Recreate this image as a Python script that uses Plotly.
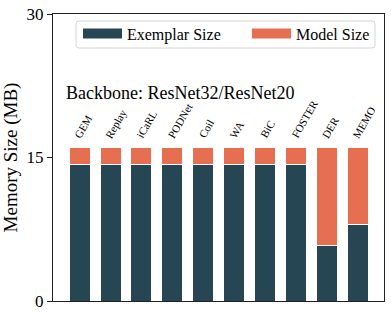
import plotly.graph_objects as go

methods = ["GEM", "Replay", "iCaRL", "PODNet", "Coil", "WA", "BiC", "FOSTER", "DER", "MEMO"]
exemplar_size = [14.25, 14.25, 14.25, 14.25, 14.25, 14.25, 14.25, 14.25, 5.8, 8.0]
model_size = [1.75, 1.75, 1.75, 1.75, 1.75, 1.75, 1.75, 1.75, 10.2, 8.0]
y_ticks = [0, 15, 30]

C_EX = "#264653"
C_MO = "#e76f51"
FONT = "Liberation Serif, Times New Roman, serif"

fig = go.Figure()
fig.add_trace(go.Bar(x=methods, y=exemplar_size, name="Exemplar Size", marker=dict(color=C_EX, line=dict(color="white", width=1)),
                     width=0.68, showlegend=False))
fig.add_trace(go.Bar(x=methods, y=model_size, name="Model Size", marker=dict(color=C_MO, line=dict(color="white", width=1)),
                     width=0.68, showlegend=False))
# legend proxies (wide patches)
fig.add_trace(go.Scatter(x=[None], y=[None], mode="lines", name="Exemplar Size", line=dict(color=C_EX, width=10), legend="legend"))
fig.add_trace(go.Scatter(x=[None], y=[None], mode="lines", name="Model Size", line=dict(color=C_MO, width=10), legend="legend2"))

totals = [a + b for a, b in zip(exemplar_size, model_size)]
for m, t in zip(methods, totals):
    fig.add_annotation(x=m, y=t, text=m, textangle=-60, showarrow=False, xanchor="left", yanchor="bottom",
                       xshift=-10, yshift=5, font=dict(size=11, family=FONT, color="black"))

fig.add_annotation(x=0.033, y=0.725, xref="paper", yref="paper", text="Backbone: ResNet32/ResNet20", showarrow=False,
                   xanchor="left", yanchor="middle", font=dict(size=18, family=FONT, color="black"))

# legend frame (rounded)
x0, x1, y0, y1 = 0.0695, 0.9728, 0.8815, 0.9756
rx, ry = 0.009, 0.0105
path = (f"M{x0+rx},{y0} L{x1-rx},{y0} Q{x1},{y0} {x1},{y0+ry} L{x1},{y1-ry} Q{x1},{y1} {x1-rx},{y1} "
        f"L{x0+rx},{y1} Q{x0},{y1} {x0},{y1-ry} L{x0},{y0+ry} Q{x0},{y0} {x0+rx},{y0} Z")
fig.add_shape(type="path", path=path, xref="paper", yref="paper", fillcolor="white",
              line=dict(color="#d4d4d4", width=1), layer="above")

leg_common = dict(orientation="h", yanchor="middle", xanchor="left", bgcolor="rgba(0,0,0,0)", borderwidth=0,
                  font=dict(size=16, family=FONT, color="black"), itemwidth=39)

fig.update_layout(
    width=391, height=318,
    margin=dict(l=53, r=7, t=14, b=17),
    barmode="stack",
    plot_bgcolor="white", paper_bgcolor="white",
    font=dict(family=FONT, color="black"),
    legend=dict(x=0.0755, y=0.932, **leg_common),
    legend2=dict(x=0.586, y=0.932, **leg_common),
    xaxis=dict(range=[-0.86, 9.84], showticklabels=False, ticks="", showline=True, linecolor="#222", linewidth=1,
               mirror=True, showgrid=False, zeroline=False),
    yaxis=dict(range=[0, 30], tickvals=y_ticks, ticks="outside", ticklen=5, tickcolor="#222", showline=True,
               linecolor="#222", linewidth=1, mirror=True, showgrid=False, zeroline=False, automargin=False,
               tickfont=dict(size=17, family=FONT),
               title=dict(text="Memory Size (MB)", font=dict(size=19, family=FONT), standoff=3)),
)

fig.write_html("out.html", config={"displayModeBar": False},
               post_script="document.body.style.margin='0';document.body.style.overflow='hidden';")
